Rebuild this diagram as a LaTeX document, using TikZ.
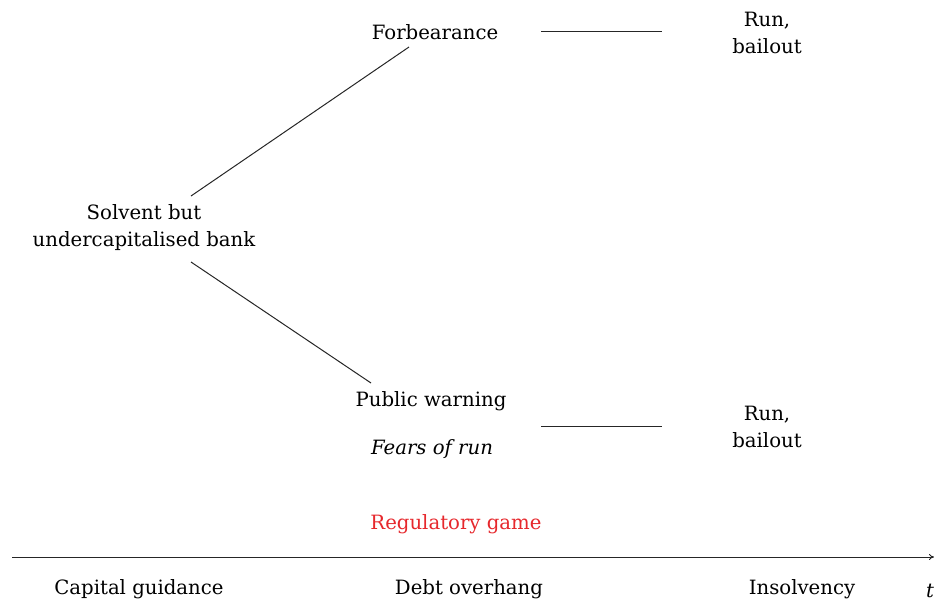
\documentclass[tikz,border=0pt]{standalone}
\usepackage{fontspec}
\setmainfont{DejaVu Serif}
\usetikzlibrary{calc,arrows.meta}
\definecolor{gamered}{RGB}{230,40,45}
\begin{document}
\begin{tikzpicture}[x=1pt,y=-1pt,
  lbl/.style={inner sep=0pt,align=center,font=\fontsize{19.7}{27}\selectfont},
  itlbl/.style={lbl,font=\fontsize{19.7}{27}\selectfont\itshape},
  conn/.style={line width=1pt,draw=black!85}]
\useasboundingbox (0,0) rectangle (934,603);
\node[lbl] (solv) at (144,228) {Solvent but\\undercapitalised bank};
\node[lbl] (forb) at (435,32) {Forbearance};
\node[lbl] (run1) at (767,33) {Run,\\bailout};
\node[lbl] (pub) at (431,401) {Public warning};
\node[itlbl] (fear) at (432,449) {Fears of run};
\node[lbl] (run2) at (767,427) {Run,\\bailout};
\node[lbl,text=gamered] (game) at (456,524) {Regulatory game};
\coordinate (axs) at (12,557);
\coordinate (axe) at (934,557);
\node[lbl] (cap) at (139,589) {Capital guidance};
\node[lbl] (debt) at (469,589) {Debt overhang};
\node[lbl] (ins) at (802,589) {Insolvency};
\node[itlbl] (t) at (930,591) {t};
\draw[conn] ($(solv)+(47,-32)$) -- ($(forb)+(-26,15)$);
\draw[conn] ($(solv)+(47,34)$) -- ($(pub)+(-60,-18)$);
\draw[conn] ($(forb)+(106,-1)$) -- ($(run1)+(-105,-2)$);
\draw[conn] ($(pub)+(110,25)$) -- ($(run2)+(-105,-1)$);
\draw[conn,-{To[length=5pt,width=6pt]}] (axs) -- (axe);
\end{tikzpicture}
\end{document}
